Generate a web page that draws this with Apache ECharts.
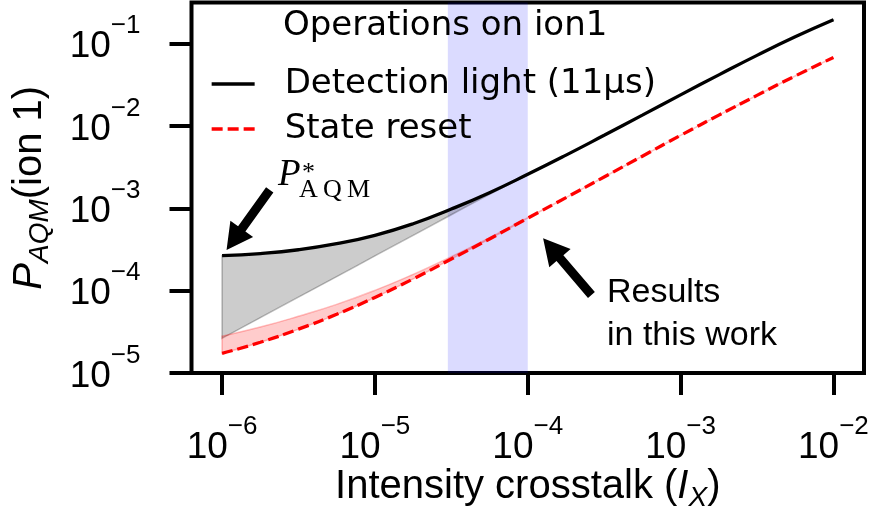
<!DOCTYPE html>
<html>
<head>
<meta charset="utf-8">
<script src="https://cdn.jsdelivr.net/npm/echarts@6/dist/echarts.min.js"></script>
<style>
  html, body { margin: 0; padding: 0; background: #fff; }
  #chart { width: 875px; height: 516px; }
</style>
</head>
<body>
<div id="chart"></div>
<script>
// Intensity crosstalk samples (I_X), four per decade
const crosstalk = [1e-6, 1.78e-6, 3.16e-6, 5.62e-6, 1e-5, 1.78e-5, 3.16e-5, 5.62e-5, 1e-4, 1.78e-4, 3.16e-4, 5.62e-4, 1e-3, 1.78e-3, 3.16e-3, 5.62e-3, 1e-2];
// Detection light (11 us): curve and lower edge of its shaded region
const detectionLight = [2.66e-4, 2.82e-4, 3.14e-4, 3.72e-4, 4.7e-4, 6.5e-4, 9.8e-4, 1.55e-3, 2.59e-3, 4.43e-3, 7.71e-3, 1.355e-2, 2.39e-2, 4.18e-2, 7.21e-2, 1.21e-1, 1.95e-1];
const detectionLightLower = [2.64e-5, 4.7e-5, 8.35e-5, 1.48e-4, 2.64e-4, 4.7e-4, 8.35e-4, 1.48e-3, 2.55e-3, 4.38e-3, 7.65e-3, 1.35e-2, 2.38e-2, 4.17e-2, 7.2e-2, 1.209e-1, 1.949e-1];
// State reset: curve and upper edge of its shaded region
const stateReset = [1.73e-5, 2.36e-5, 3.41e-5, 5.16e-5, 8.28e-5, 1.39e-4, 2.42e-4, 4.25e-4, 7.59e-4, 1.35e-3, 2.4e-3, 4.3e-3, 7.7e-3, 1.355e-2, 2.355e-2, 4.05e-2, 6.8e-2];
const stateResetUpper = [2.8e-5, 3.61e-5, 4.88e-5, 6.81e-5, 1.007e-4, 1.578e-4, 2.59e-4, 4.4e-4, 7.69e-4, 1.35e-3, 2.4e-3, 4.3e-3, 7.7e-3, 1.355e-2, 2.355e-2, 4.05e-2, 6.8e-2];
// Highlighted crosstalk window
const highlightRange = [3e-5, 1e-4];
// Decade ticks
const xTicks = [1e-6, 1e-5, 1e-4, 1e-3, 1e-2];
const yTicks = [1e-5, 1e-4, 1e-3, 1e-2, 1e-1];
// Legend entries
const legendTitle = 'Operations on ion1';
const seriesNames = ['Detection light (11μs)', 'State reset'];

const lg = v => Math.log10(v);
const pts = arr => arr.map((v, i) => [lg(crosstalk[i]), lg(v)]);

const SANS = '"Liberation Sans", Arial, sans-serif';
const LEG = '"DejaVu Sans", sans-serif';
const SERIF = '"Liberation Serif", "DejaVu Serif", serif';
const SMOOTH = 0.5;

const tickRich = {
  b: { fontFamily: SANS, fontSize: 37, lineHeight: 40, color: '#000' },
  s: { fontFamily: SANS, fontSize: 26, lineHeight: 26, color: '#000', padding: [0, 0, 42, 0] }
};
const powerLabel = v => '{b|10}{s|−' + Math.round(-v) + '}';

const nameStyle = {
  fontFamily: SANS, fontSize: 40, color: '#000', lineHeight: 44,
  rich: {
    i: { fontFamily: SANS, fontSize: 40, fontStyle: 'italic', color: '#000', lineHeight: 44 },
    sub: { fontFamily: SANS, fontSize: 28, fontStyle: 'italic', color: '#000', lineHeight: 28, padding: [22, 0, 0, 0] }
  }
};

// Bezier path through pixel points, same construction as the line series smoothing
function smoothSegment(p, smooth, first) {
  let d = (first ? 'M' : 'L') + p[0][0] + ' ' + p[0][1];
  let cpx0 = p[0][0], cpy0 = p[0][1];
  const mn = Math.min, mx = Math.max;
  for (let i = 1; i < p.length; i++) {
    const [x, y] = p[i];
    const [prevX, prevY] = p[i - 1];
    let cpx1, cpy1, nextCpx0, nextCpy0;
    if (i === p.length - 1) {
      cpx1 = x; cpy1 = y;
    } else {
      const [nextX, nextY] = p[i + 1];
      let vx = nextX - prevX, vy = nextY - prevY;
      const lenPrev = Math.hypot(x - prevX, y - prevY);
      const lenNext = Math.hypot(nextX - x, nextY - y);
      const ratio = lenNext / (lenNext + lenPrev);
      nextCpx0 = x + vx * smooth * ratio;
      nextCpy0 = y + vy * smooth * ratio;
      nextCpx0 = mn(nextCpx0, mx(nextX, x)); nextCpy0 = mn(nextCpy0, mx(nextY, y));
      nextCpx0 = mx(nextCpx0, mn(nextX, x)); nextCpy0 = mx(nextCpy0, mn(nextY, y));
      vx = nextCpx0 - x; vy = nextCpy0 - y;
      cpx1 = x - vx * lenPrev / lenNext; cpy1 = y - vy * lenPrev / lenNext;
      cpx1 = mn(cpx1, mx(prevX, x)); cpy1 = mn(cpy1, mx(prevY, y));
      cpx1 = mx(cpx1, mn(prevX, x)); cpy1 = mx(cpy1, mn(prevY, y));
      vx = x - cpx1; vy = y - cpy1;
      nextCpx0 = x + vx * lenNext / lenPrev; nextCpy0 = y + vy * lenNext / lenPrev;
    }
    d += ' C' + cpx0 + ' ' + cpy0 + ' ' + cpx1 + ' ' + cpy1 + ' ' + x + ' ' + y;
    cpx0 = nextCpx0; cpy0 = nextCpy0;
  }
  return d;
}

// Shaded region between two curves, drawn as a custom series
function bandSeries(upper, lower, fill, stroke) {
  return {
    type: 'custom', silent: true, z: 2,
    data: [[lg(crosstalk[0]), lg(upper[0])]],
    renderItem: (params, api) => {
      const up = upper.map((v, i) => api.coord([lg(crosstalk[i]), lg(v)]));
      const lo = lower.map((v, i) => api.coord([lg(crosstalk[i]), lg(v)])).reverse();
      const d = smoothSegment(up, SMOOTH, true) + ' ' + smoothSegment(lo, SMOOTH, false) + ' Z';
      return {
        type: 'path',
        shape: { pathData: d },
        style: { fill: fill, stroke: stroke, lineWidth: 1.5 }
      };
    }
  };
}

const chart = echarts.init(document.getElementById('chart'), null, { renderer: 'canvas' });

const option = {
  animation: false,
  backgroundColor: '#fff',
  grid: {
    left: 191.5, right: 11, top: 2.5, bottom: 143,
    containLabel: false, outerBoundsMode: 'none',
    show: true, borderColor: '#000', borderWidth: 4, backgroundColor: 'transparent'
  },
  xAxis: {
    type: 'value', min: -6.2, max: -1.8,
    axisLine: { show: false },
    splitLine: { show: false },
    axisTick: { show: true, inside: false, length: 22, customValues: xTicks.map(lg), lineStyle: { color: '#000', width: 4 } },
    axisLabel: { customValues: xTicks.map(lg), margin: 55, formatter: powerLabel, rich: tickRich },
    name: 'Intensity crosstalk ({i|I}{sub|X})',
    nameLocation: 'middle', nameGap: 92, nameMoveOverlap: false,
    nameTextStyle: nameStyle
  },
  yAxis: {
    type: 'value', min: -5, max: -0.5,
    axisLine: { show: false },
    splitLine: { show: false },
    axisTick: { show: true, inside: false, length: 22, customValues: yTicks.map(lg), lineStyle: { color: '#000', width: 4 } },
    axisLabel: { customValues: yTicks.map(lg), margin: 51, formatter: powerLabel, rich: tickRich, padding: [7, 0, 0, 0] },
    name: '{i|P}{sub|AQM}(ion 1)',
    nameLocation: 'middle', nameRotate: 90, nameGap: 140, nameMoveOverlap: false,
    nameTextStyle: nameStyle
  },
  legend: {
    data: seriesNames,
    orient: 'vertical', left: 210, top: 66, padding: 0,
    itemWidth: 43, itemHeight: 14, itemGap: 9,
    selectedMode: false,
    itemStyle: { opacity: 0 },
    lineStyle: { width: 3.3 },
    textStyle: { fontFamily: LEG, fontSize: 34, color: '#000', lineHeight: 36, padding: [0, 0, 0, 25] }
  },
  series: [
    {
      // highlighted crosstalk window
      type: 'line', data: [], silent: true, z: 1,
      markArea: {
        silent: true,
        itemStyle: { color: 'rgba(0,0,255,0.14)' },
        data: [[{ xAxis: lg(highlightRange[0]) }, { xAxis: lg(highlightRange[1]) }]]
      }
    },
    bandSeries(detectionLight, detectionLightLower, 'rgba(0,0,0,0.2)', 'rgba(0,0,0,0.25)'),
    bandSeries(stateResetUpper, stateReset, 'rgba(255,0,0,0.2)', 'rgba(255,0,0,0.25)'),
    {
      name: seriesNames[0], type: 'line', data: pts(detectionLight), smooth: SMOOTH,
      symbol: 'none', z: 5, color: '#000',
      lineStyle: { color: '#000', width: 3.3 }
    },
    {
      name: seriesNames[1], type: 'line', data: pts(stateReset), smooth: SMOOTH,
      symbol: 'none', z: 6, color: '#ff0000',
      lineStyle: { color: '#ff0000', width: 3.3, type: [11, 5] }
    }
  ]
};

chart.setOption(option);

// Block arrow pointing from tail to tip, anchored in data coordinates
function arrowShape(tail, tip) {
  const s = chart.convertToPixel({ gridIndex: 0 }, [lg(tail[0]), lg(tail[1])]);
  const t = chart.convertToPixel({ gridIndex: 0 }, [lg(tip[0]), lg(tip[1])]);
  const dx = t[0] - s[0], dy = t[1] - s[1];
  const len = Math.hypot(dx, dy);
  const ux = dx / len, uy = dy / len, nx = -uy, ny = ux;
  const shaft = 9, head = 28, headLen = 26;
  const bx = t[0] - ux * headLen, by = t[1] - uy * headLen;
  return [
    [s[0] + nx * shaft / 2, s[1] + ny * shaft / 2],
    [bx + nx * shaft / 2, by + ny * shaft / 2],
    [bx + nx * head / 2, by + ny * head / 2],
    [t[0], t[1]],
    [bx - nx * head / 2, by - ny * head / 2],
    [bx - nx * shaft / 2, by - ny * shaft / 2],
    [s[0] - nx * shaft / 2, s[1] - ny * shaft / 2]
  ];
}

chart.setOption({
  graphic: [
    {
      type: 'text', x: 283, y: 26, z: 100,
      style: { text: legendTitle, fontFamily: LEG, fontSize: 34, fill: '#000', verticalAlign: 'middle' }
    },
    {
      type: 'polygon', z: 100,
      shape: { points: arrowShape([2.05e-6, 1.67e-3], [1.07e-6, 3.12e-4]) },
      style: { fill: '#000' }
    },
    {
      type: 'polygon', z: 100,
      shape: { points: arrowShape([2.61e-4, 8.85e-5], [1.26e-4, 4.33e-4]) },
      style: { fill: '#000' }
    },
    {
      type: 'text', x: 278, y: 175, z: 100,
      style: { text: 'P', fontFamily: SERIF, fontStyle: 'italic', fontSize: 37, fill: '#000', verticalAlign: 'middle' }
    },
    {
      type: 'text', x: 302, y: 173, z: 100,
      style: { text: '*', fontFamily: SERIF, fontSize: 26, fill: '#000', verticalAlign: 'middle' }
    },
    {
      type: 'text', x: 299, y: 190, z: 100,
      style: { text: 'A\u2009Q\u2009M', fontFamily: SERIF, fontSize: 26, fill: '#000', verticalAlign: 'middle' }
    },
    {
      type: 'text', x: 607, y: 314, z: 100,
      style: { text: 'Results\nin this work', fontFamily: SANS, fontSize: 34, lineHeight: 43, fill: '#000', verticalAlign: 'middle' }
    }
  ]
});
</script>
</body>
</html>
